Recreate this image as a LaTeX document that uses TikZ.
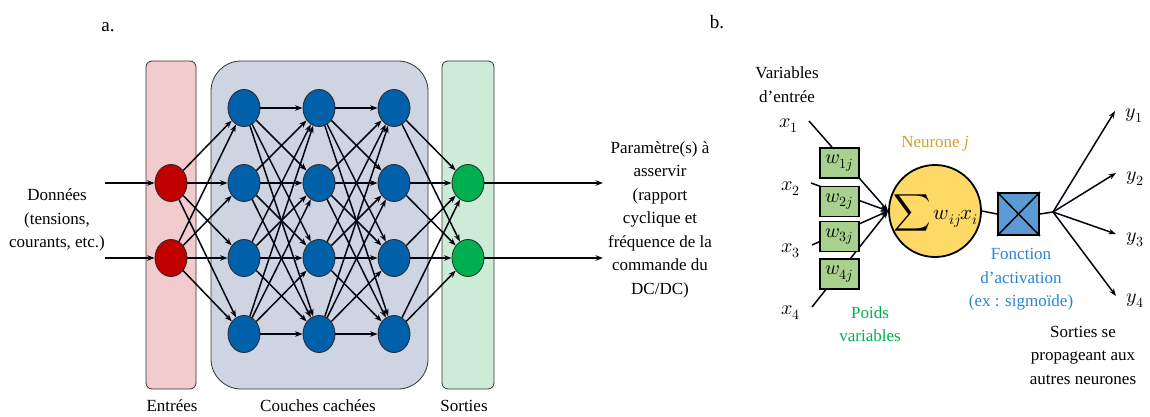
\documentclass[tikz,border=0pt]{standalone}
\usepackage{fontspec}
\usepackage{unicode-math}
\setmainfont{Liberation Serif}
\usetikzlibrary{arrows.meta,shapes.geometric}
\definecolor{pinkbg}{RGB}{242,204,204}
\definecolor{graybg}{RGB}{206,212,226}
\definecolor{greenbg}{RGB}{204,236,216}
\definecolor{nred}{RGB}{192,0,0}
\definecolor{nblue}{RGB}{0,96,170}
\definecolor{ngreen}{RGB}{0,176,80}
\definecolor{wgreen}{RGB}{169,209,142}
\definecolor{sumyellow}{RGB}{255,217,102}
\definecolor{actblue}{RGB}{91,155,213}
\definecolor{goldtxt}{RGB}{208,162,40}
\definecolor{bluetxt}{RGB}{40,132,212}
\definecolor{greentxt}{RGB}{0,176,80}
\definecolor{linecol}{RGB}{5,5,15}
\begin{document}
\begin{tikzpicture}[x=1pt,y=-1pt,
  font=\fontsize{17}{23.5}\selectfont,
  neu/.style={ellipse,draw=black!85,line width=0.8pt,minimum width=32,minimum height=37,inner sep=0pt},
  conn/.style={draw=linecol,line width=1.5pt,-{Stealth[length=7.5pt,width=5.5pt]}},
  plain/.style={draw=black,line width=1.5pt},
  wbox/.style={draw=black,line width=1.8pt,fill=wgreen,minimum width=39,minimum height=30,inner sep=0pt,font=\fontsize{20}{22}\selectfont},
  lbl/.style={align=center,inner sep=0pt},
  mlbl/.style={inner sep=0pt,font=\fontsize{20}{22}\selectfont}]
\useasboundingbox (0,0) rectangle (1150,417);

% ---- part a ----
\node[lbl,font=\fontsize{19}{22}\selectfont] (la) at (108,27) {a.};
\draw[fill=pinkbg,draw=black!80,line width=0.8pt,rounded corners=6] (146,61) rectangle (196,389);
\draw[fill=graybg,draw=black!80,line width=0.8pt,rounded corners=30] (211,61) rectangle (428,389);
\draw[fill=greenbg,draw=black!80,line width=0.8pt,rounded corners=6] (442,61) rectangle (494,389);

\node[neu,fill=nred] (i1) at (171,183) {};
\node[neu,fill=nred] (i2) at (171,258) {};
\foreach \c/\x in {1/244,2/319,3/394}{
  \foreach \r/\y in {1/108,2/183,3/258,4/334}{
    \node[neu,fill=nblue] (h\c\r) at (\x,\y) {};
  }
}
\node[neu,fill=ngreen] (o1) at (468,183) {};
\node[neu,fill=ngreen] (o2) at (468,258) {};

\foreach \a in {1,2}{\foreach \b in {1,...,4}{\draw[conn] (i\a) -- (h1\b);}}
\foreach \a in {1,...,4}{\foreach \b in {1,...,4}{\draw[conn] (h1\a) -- (h2\b); \draw[conn] (h2\a) -- (h3\b);}}
\foreach \a in {1,...,4}{\foreach \b in {1,2}{\draw[conn] (h3\a) -- (o\b);}}

\coordinate (in1) at (105,183);
\coordinate (in2) at (105,258);
\coordinate (out1) at (603,183);
\coordinate (out2) at (603,258);
\draw[conn] (in1) -- (i1);
\draw[conn] (in2) -- (i2);
\draw[conn] (o1) -- (out1);
\draw[conn] (o2) -- (out2);

\node[lbl] (donnees) at (57,220) {Données\\(tensions,\\courants, etc.)};
\node[lbl] (param) at (660,219.5) {Paramètre(s) à\\asservir\\(rapport\\cyclique et\\fréquence de la\\commande du\\DC/DC)};
\node[lbl] (ent) at (172,406) {Entrées};
\node[lbl] (cc) at (318,406) {Couches cachées};
\node[lbl] (sor) at (464,406) {Sorties};

% ---- part b ----
\node[lbl,font=\fontsize{19}{22}\selectfont] (lb) at (717,22) {b.};
\node[lbl] (varin) at (787,84.5) {Variables\\d’entrée};
\node[mlbl] (x1) at (789,126) {$x_1$};
\node[mlbl] (x2) at (791,189) {$x_2$};
\node[mlbl] (x3) at (791,251) {$x_3$};
\node[mlbl] (x4) at (791,313) {$x_4$};

\node[circle,draw=black,line width=1.8pt,fill=sumyellow,minimum size=92,inner sep=0pt] (N) at (935,211) {};
\node[lbl] (sumtxt) at (936,213) {{\fontsize{26}{26}\selectfont$\displaystyle\sum$}\,{\fontsize{21}{22}\selectfont$w_{ij}x_i$}};
\node[lbl,text=goldtxt] (neurone) at (935,144) {Neurone \textit{j}};

\coordinate (s1) at (809,121);
\coordinate (s2) at (811,183);
\coordinate (s3) at (812,245);
\coordinate (s4) at (812,307);
\foreach \k in {1,...,4}{\draw[conn] (s\k) -- (N.west);}

\node[wbox] (w1) at (839.5,163) {$w_{1j}$};
\node[wbox] (w2) at (839.5,201.5) {$w_{2j}$};
\node[wbox] (w3) at (839.5,236.5) {$w_{3j}$};
\node[wbox] (w4) at (839.5,274) {$w_{4j}$};

\node[draw=black,line width=1.8pt,fill=actblue,minimum width=41,minimum height=42,inner sep=0pt] (act) at (1018.5,214) {};
\draw[plain] (act.north west) -- (act.south east);
\draw[plain] (act.north east) -- (act.south west);
\draw[plain] (N.east) -- (act.west);
\coordinate (J) at (1053,212);
\draw[plain] (act.east) -- (J);

\coordinate (e1) at (1115,111);
\coordinate (e2) at (1116,173);
\coordinate (e3) at (1116,234);
\coordinate (e4) at (1116,296);
\foreach \k in {1,...,4}{\draw[conn] (J) -- (e\k);}
\node[mlbl] (y1) at (1134,116) {$y_1$};
\node[mlbl] (y2) at (1135,179) {$y_2$};
\node[mlbl] (y3) at (1135,240) {$y_3$};
\node[mlbl] (y4) at (1135,301) {$y_4$};

\node[lbl,text=bluetxt] (fonc) at (1021,279.5) {Fonction\\d’activation\\(ex : sigmoïde)};
\node[lbl,text=greentxt] (poids) at (870,324) {Poids\\variables};
\node[lbl] (sorties) at (1083,355) {Sorties se\\propageant aux\\autres neurones};
\end{tikzpicture}
\end{document}
